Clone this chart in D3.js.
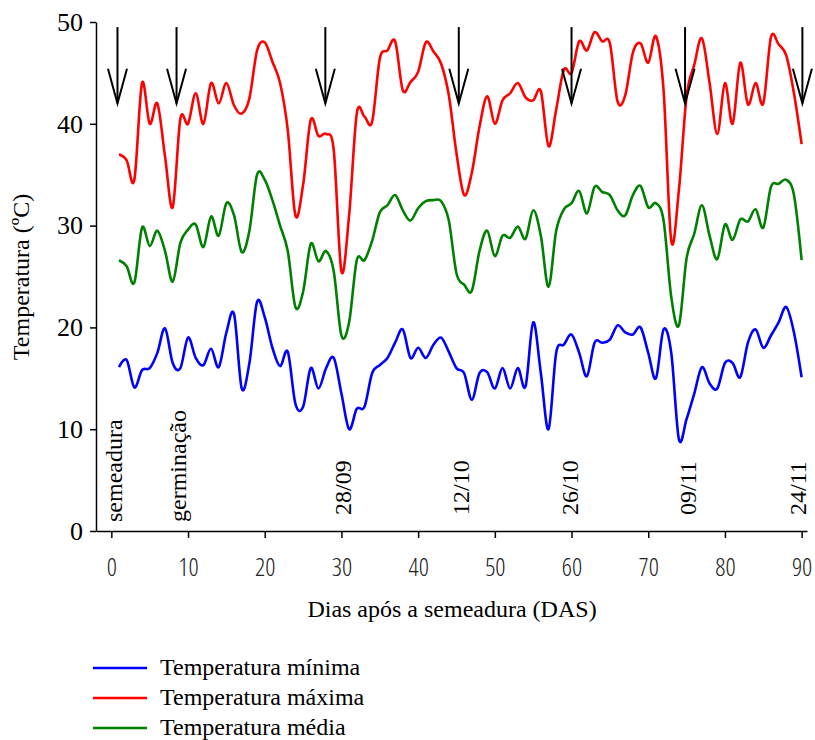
<!DOCTYPE html>
<html>
<head>
<meta charset="utf-8">
<style>
  body { margin: 0; background: #fff; }
  .xt text { font-family: "Open Sans", sans-serif; font-weight: 300; font-stretch: 75%; }
</style>
<title>Temperatura</title>
</head>
<body>
<script src="https://cdn.jsdelivr.net/npm/d3@7"></script>
<script>
// daily temperature readings, days 1..90
var days = d3.range(1, 91);
var tMin = [16.1,16.8,14.1,15.8,16.0,17.5,19.9,16.5,16.0,19.0,
            17.0,16.3,17.9,16.1,19.5,21.3,14.0,16.5,22.5,21.0,
            18.0,16.2,17.6,12.5,12.2,16.0,14.0,16.0,17.0,13.5,
            10.0,12.0,12.2,15.5,16.3,17.0,18.5,19.8,17.0,18.0,
            17.0,18.3,19.0,17.6,16.0,15.5,12.9,15.5,15.6,14.0,
            16.0,14.0,16.0,14.2,20.5,15.5,10.0,17.5,18.3,19.3,
            17.5,15.2,18.5,18.5,18.8,20.2,19.5,19.3,20.0,17.5,
            15.0,19.8,17.5,9.0,11.0,13.5,16.1,14.5,14.0,16.5,
            16.5,15.1,18.5,19.8,18.0,19.2,20.5,22.0,19.5,15.1];
var tMax = [37.0,36.4,34.5,44.0,40.0,42.0,36.8,31.8,40.5,40.0,
            43.0,40.0,44.0,42.0,44.0,41.8,41.0,42.5,47.2,48.0,
            46.1,44.0,39.4,31.0,34.0,40.4,38.8,39.0,37.4,25.5,
            31.0,41.0,40.7,40.2,46.4,47.2,48.1,43.3,44.1,45.1,
            48.0,47.1,45.9,42.8,37.1,33.0,35.2,39.7,42.7,40.0,
            42.3,43.0,44.0,42.6,42.3,43.2,37.8,41.4,45.3,45.0,
            48.1,47.2,49.0,48.1,47.9,42.2,42.8,47.0,47.9,46.0,
            48.6,43.3,28.5,33.5,42.7,45.8,48.4,44.0,39.0,44.0,
            40.0,46.0,41.9,44.0,42.0,48.5,47.8,46.7,43.0,38.0];
var tMed = [26.6,26.0,24.4,29.8,28.0,29.5,27.5,24.5,28.3,29.6,
            30.1,27.9,30.9,29.0,32.2,31.0,27.4,29.5,35.0,34.5,
            32.5,30.0,27.5,22.0,23.5,28.2,26.5,27.5,25.5,19.2,
            20.5,26.6,26.6,28.5,31.3,32.0,33.0,31.5,30.5,31.7,
            32.4,32.5,32.4,30.5,25.3,24.2,23.6,27.5,29.5,27.0,
            29.0,28.8,29.9,28.7,31.5,29.0,24.0,29.5,31.6,32.2,
            33.4,31.2,33.8,33.3,33.0,31.5,31.0,33.0,33.9,31.8,
            32.2,30.5,23.0,20.2,26.8,29.2,32.0,29.0,26.7,30.1,
            28.6,30.6,30.4,31.6,29.8,33.8,34.1,34.5,33.0,26.6];

var seriesNames = ["Temperatura mínima", "Temperatura máxima", "Temperatura média"];
var seriesColors = ["#0000ff", "#ff0000", "#008000"];

var arrowDays = [0.8, 8.5, 27.9, 45.3, 60.0, 74.8, 90.1];
var eventLabels = ["semeadura", "germinação", "28/09", "12/10", "26/10", "09/11", "24/11"];
var eventDays = [0.5, 8.8, 30.3, 45.7, 59.9, 75.3, 89.7];

var xTicks = d3.range(0, 91, 10);
var yTicks = d3.range(0, 51, 10);

var SERIF = "'Liberation Serif', 'Times New Roman', serif";

var W = 815, H = 740;
var svg = d3.select("body").append("svg")
  .attr("width", W).attr("height", H);

var x = d3.scaleLinear().domain([-2, 90.7]).range([96, 807]);
var y = d3.scaleLinear().domain([0, 50]).range([531, 22]);

// axes
var gx = svg.append("g")
  .attr("class", "xt")
  .attr("transform", "translate(0," + y(0) + ")")
  .call(d3.axisBottom(x).tickValues(xTicks).tickSize(7).tickSizeOuter(0).tickPadding(20));
gx.selectAll("text").attr("font-size", 25).attr("fill", "#222");
gx.selectAll("path, line").attr("stroke", "#000").attr("stroke-width", 1.5);

var gy = svg.append("g")
  .attr("transform", "translate(" + x(-2) + ",0)")
  .call(d3.axisLeft(y).tickValues(yTicks).tickSize(6).tickSizeOuter(0).tickPadding(7));
gy.attr("font-family", SERIF);
gy.selectAll("text").attr("font-size", 26).attr("fill", "#000");
gy.selectAll("path, line").attr("stroke", "#000").attr("stroke-width", 1.5);

// lines
var allSeries = [tMin, tMax, tMed];
var line = d3.line()
  .x(function(d, i) { return x(days[i]); })
  .y(function(d) { return y(d); })
  .curve(d3.curveCatmullRom.alpha(0));

svg.selectAll(".series").data(allSeries).enter()
  .append("path")
  .attr("class", "series")
  .attr("d", line)
  .attr("fill", "none")
  .attr("stroke", function(d, i) { return seriesColors[i]; })
  .attr("stroke-width", 2.6);

// arrows
var arr = svg.selectAll(".arrow").data(arrowDays).enter()
  .append("g").attr("class", "arrow")
  .attr("fill", "none").attr("stroke", "#000").attr("stroke-width", 2);
arr.append("line")
  .attr("x1", function(d) { return x(d); }).attr("x2", function(d) { return x(d); })
  .attr("y1", y(49.5)).attr("y2", y(42.0));
arr.append("path")
  .attr("d", function(d) {
    return "M" + (x(d) - 9.5) + "," + y(45.4) + "L" + x(d) + "," + y(42.0) + "L" + (x(d) + 9.5) + "," + y(45.4);
  });

// event labels (vertical)
svg.selectAll(".ev").data(eventLabels).enter()
  .append("text")
  .attr("class", "ev")
  .attr("font-family", SERIF)
  .attr("font-size", 24)
  .attr("transform", function(d, i) {
    var bx = x(eventDays[i]) + 7;
    var by = i < 2 ? 522 : 515;
    return "translate(" + bx + "," + by + ") rotate(-90)";
  })
  .text(function(d) { return d; });

// axis titles
svg.append("text")
  .attr("font-family", SERIF)
  .attr("font-size", 24)
  .attr("text-anchor", "middle")
  .attr("x", 452).attr("y", 617)
  .text("Dias após a semeadura (DAS)");

svg.append("text")
  .attr("font-family", SERIF)
  .attr("font-size", 24)
  .attr("text-anchor", "middle")
  .attr("transform", "translate(29,277) rotate(-90)")
  .text("Temperatura (ºC)");

// legend
var leg = svg.selectAll(".leg").data(seriesNames).enter()
  .append("g").attr("class", "leg")
  .attr("transform", function(d, i) { return "translate(93," + (668 + i * 30) + ")"; });
leg.append("line")
  .attr("x1", 0).attr("x2", 54)
  .attr("stroke", function(d, i) { return seriesColors[i]; })
  .attr("stroke-width", 2.6);
leg.append("text")
  .attr("font-family", SERIF)
  .attr("font-size", 24)
  .attr("x", 67).attr("y", 7)
  .text(function(d) { return d; });
</script>
</body>
</html>
